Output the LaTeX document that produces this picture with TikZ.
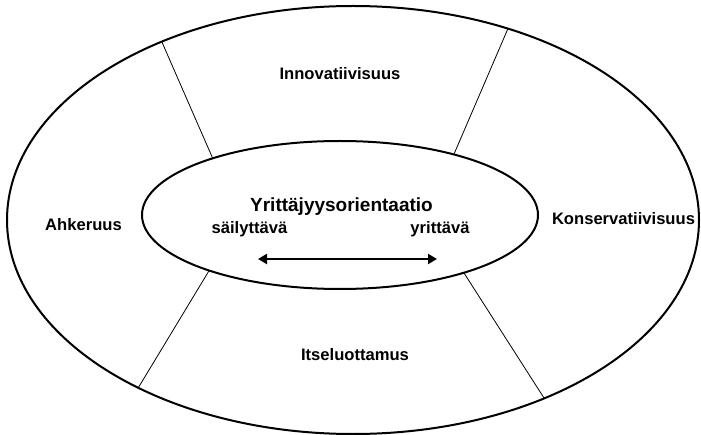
\documentclass[tikz,border=0pt]{standalone}
\usepackage{fontspec}
\setmainfont{Liberation Sans}
\usetikzlibrary{shapes.geometric,arrows.meta}
\begin{document}
\begin{tikzpicture}[x=1pt,y=-1pt,
  ring/.style={draw,ellipse,line width=2pt,inner sep=0pt,outer sep=0pt},
  divider/.style={line width=0.8pt},
  lbl/.style={font=\bfseries\fontsize{16.6}{19}\selectfont,inner sep=0pt,anchor=base},
  ttl/.style={font=\bfseries\fontsize{19}{22}\selectfont,inner sep=0pt,anchor=base}]
\useasboundingbox (0,0) rectangle (701,435);

% the two rings
\node[ring,minimum width=692pt,minimum height=428pt] (outer) at (353,220) {};
\node[ring,minimum width=396pt,minimum height=148pt] (inner) at (340,215) {};

% dividers between the four sectors
\draw[divider] (inner.156.1) -- (outer.137.3);
\draw[divider] (inner.28.7)  -- (outer.51.2);
\draw[divider] (inner.203.9) -- (outer.218.5);
\draw[divider] (inner.335.3) -- (outer.317.0);

% sector labels
\node[lbl] (inno) at (340,80)  {Innovatiivisuus};
\node[lbl] (ahk)  at (83.5,231) {Ahkeruus};
\node[lbl] (kons) at (623.5,225) {Konservatiivisuus};
\node[lbl] (itse) at (355,360) {Itseluottamus};

% centre
\node[ttl] (yo)  at (341.5,212) {Yrittäjyysorientaatio};
\node[lbl] (sai) at (249.5,234) {säilyttävä};
\node[lbl] (yri) at (440,234) {yrittävä};

\coordinate (aL) at (258,259);
\coordinate (aR) at (437,259);
\draw[line width=2.6pt,{Triangle[length=9pt,width=10pt]}-{Triangle[length=9pt,width=10pt]}] (aL) -- (aR);
\end{tikzpicture}
\end{document}
